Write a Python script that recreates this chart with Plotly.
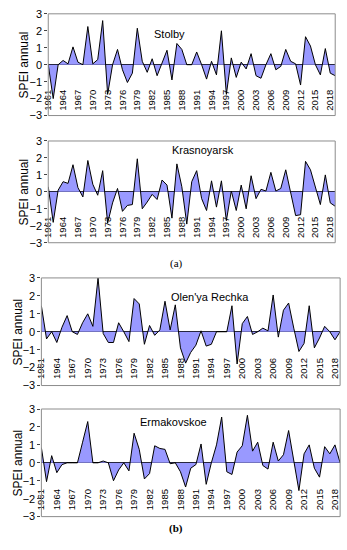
import plotly.graph_objects as go

years = list(range(1961, 2020))

stolby = [0.0, -2.0, 0.0, 0.25, 0.05, 1.05, 0.15, 0.0, 2.25, 0.05,
          0.3, 2.6, -1.75, 0.0, 0.9, -0.3, -1.05, -0.5, 2.15, 0.2,
          -0.45, 0.35, -0.65, 0.15, 0.85, -0.9, 1.25, 0.9, 0.0, 0.0,
          0.75, 0.0, -0.85, 0.2, -0.6, 2.0, -1.75, 0.4, -0.75, 0.15,
          -0.25, 0.65, -0.65, -0.8, 0.0, 0.65, -0.3, -0.1, 0.9, 0.2,
          0.05, -1.2, 1.65, 1.1, 0.0, -0.6, 0.95, -0.5, -0.65]

krasnoyarsk = [0.3, -1.8, 0.1, 0.6, 0.5, 1.6, 0.25, -0.3, 1.85, 0.45,
               -0.2, 1.25, -1.85, -0.65, 0.2, -1.15, -0.8, -0.75, 1.95, -1.0,
               -0.6, -0.15, -0.45, 0.7, 0.4, -1.55, 1.65, 0.3, -1.9, 0.6,
               1.25, -0.4, -1.1, 0.65, -0.9, 0.65, -1.7, 0.05, -1.1, 0.4,
               -1.0, 0.95, -0.4, 0.15, 0.05, 1.15, 0.05, 0.2, 1.3, 0.0,
               -1.4, -1.35, 1.8, 1.3, 0.3, -0.75, 1.0, -0.65, -0.85]

olenya = [1.45, -0.4, 0.0, -0.6, 0.25, 0.9, 0.0, -0.15, 0.5, 1.0,
          0.3, 3.0, -0.1, -0.6, -0.6, 0.5, 0.0, -0.55, 1.85, 1.55,
          -0.7, 0.35, -0.2, 0.1, 1.7, 0.1, 1.5, -0.9, -1.75, -1.15,
          -0.75, 0.05, -0.8, -0.7, 0.0, 0.0, 0.0, 1.45, -1.8, 0.45,
          0.85, -0.15, 0.0, 0.2, 0.05, 2.05, -0.3, 1.2, 1.6, 0.2,
          -1.1, -0.65, 1.45, -0.9, -0.35, 0.3, 0.0, -0.45, 0.0]

ermakovskoe = [0.85, -1.05, 0.4, -0.55, -0.1, 0.0, 0.0, 0.0, 1.15, 2.3,
               0.0, 0.0, 0.1, 0.0, -1.0, -0.4, 0.0, -0.45, 1.65, 0.75,
               -0.9, -0.6, 0.95, 0.8, 0.75, -0.05, 0.0, -0.5, -1.35, -0.3,
               -0.1, 1.05, -1.2, 0.0, 1.0, 2.55, -0.5, -0.65, 0.6, 0.95,
               2.65, 0.65, 1.15, -0.15, -0.35, 1.15, 0.1, 0.45, 1.8, 0.1,
               -1.55, 0.5, 1.0, -0.3, -0.8, 0.9, 0.5, 1.0, 0.0]

tick_years = list(range(1961, 2020, 3))
tick_text = [str(y) for y in tick_years]
y_ticks = [-3, -2, -1, 0, 1, 2, 3]

stations = ["Stolby", "Krasnoyarsk", "Olen'ya Rechka", "Ermakovskoe"]
series = [stolby, krasnoyarsk, olenya, ermakovskoe]

W, H = 347, 550
# pixel boxes: (left, right, top, bottom)
boxes = [(43, 335, 8, 112), (43, 335, 138, 242), (36, 340, 278, 388), (36, 340, 412, 522)]
title_pos = [(166, 29), (200, 147), (208, 297), (170, 425)]
ylab_x = [18, 18, 12, 12]

fig = go.Figure()
layout = dict(width=W, height=H, margin=dict(l=0, r=0, t=0, b=0),
              paper_bgcolor="white", plot_bgcolor="white", showlegend=False,
              font=dict(family="Liberation Sans, Arial", color="black"))
annotations = []
shapes = []
for i, (name, vals, box) in enumerate(zip(stations, series, boxes), start=1):
    sfx = "" if i == 1 else str(i)
    fig.add_trace(go.Scatter(x=years, y=vals, mode="lines", fill="tozeroy",
                             fillcolor="#9999ff", line=dict(color="black", width=1),
                             xaxis="x" + sfx, yaxis="y" + sfx, hoverinfo="skip"))
    l, r, t, b = box
    unit = (b - t) / 6.0
    zero_px = (t + b) / 2.0
    lab_px = zero_px + 1.3 * unit
    layout["xaxis" + sfx] = dict(domain=[l / W, r / W], anchor="free", position=1 - lab_px / H,
                                 range=[1961, 2019],
                                 tickmode="array", tickvals=tick_years, ticktext=tick_text,
                                 tickangle=-90, tickfont=dict(size=9.5, color="black"),
                                 ticklabeloverflow="allow",
                                 showgrid=False, zeroline=False, showline=False, ticks="")
    # small category ticks on the zero line
    tsfx = str(i + 4)
    layout["xaxis" + tsfx] = dict(domain=[l / W, r / W], anchor="free", position=1 - zero_px / H,
                                  overlaying="x" + sfx, range=[1961, 2019], tickmode="linear",
                                  tick0=1961, dtick=1, ticks="outside", ticklen=2,
                                  tickcolor="#555", showticklabels=False, showgrid=False,
                                  zeroline=False, showline=False)
    layout["yaxis" + sfx] = dict(domain=[1 - b / H, 1 - t / H], anchor="x" + sfx, range=[-3, 3],
                                 tickmode="array", tickvals=y_ticks,
                                 tickfont=dict(size=11, color="black"),
                                 showgrid=False, zeroline=True, zerolinecolor="black",
                                 zerolinewidth=1, showline=False,
                                 ticks="outside", ticklen=3, tickcolor="#444")
    shapes.append(dict(type="rect", xref="x" + sfx + " domain", yref="y" + sfx + " domain",
                       x0=0, x1=1, y0=0, y1=1, line=dict(color="#8c8c8c", width=1),
                       fillcolor="rgba(0,0,0,0)", layer="above"))
    tx, ty = title_pos[i - 1]
    annotations.append(dict(text=name, x=tx / W, y=1 - ty / H, xref="paper", yref="paper",
                            showarrow=False, font=dict(size=11), xanchor="center", yanchor="middle"))
    annotations.append(dict(text="SPEI annual", x=ylab_x[i - 1] / W, y=1 - (t + b) / 2 / H,
                            xref="paper", yref="paper", showarrow=False, textangle=-90,
                            font=dict(size=12), xanchor="center", yanchor="middle"))

annotations.append(dict(text="(a)", x=173 / W, y=1 - 263 / H, xref="paper", yref="paper",
                        showarrow=False, font=dict(family="Liberation Serif, Times New Roman", size=11)))
annotations.append(dict(text="<b>(b)</b>", x=173 / W, y=1 - 543 / H, xref="paper", yref="paper",
                        showarrow=False, font=dict(family="Liberation Serif, Times New Roman", size=11)))
layout["annotations"] = annotations
layout["shapes"] = shapes
fig.update_layout(**layout)
fig.write_html("out.html", config={"displayModeBar": False},
               post_script="document.body.style.margin='0';document.body.style.overflow='hidden';")
